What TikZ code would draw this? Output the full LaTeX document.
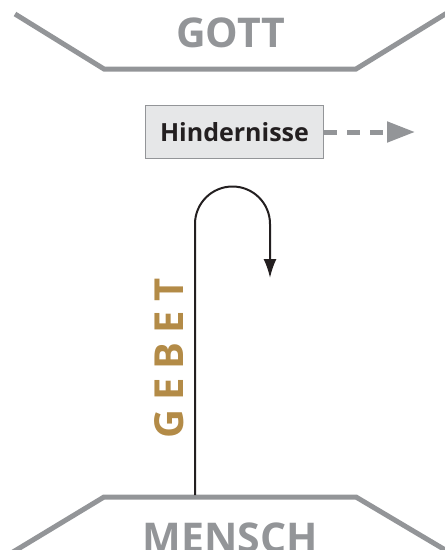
\documentclass[tikz,border=0pt]{standalone}
\usepackage{fontspec}
\setmainfont{Open Sans}
\usetikzlibrary{arrows.meta}
\definecolor{frame}{HTML}{939598}
\definecolor{boxfill}{HTML}{E6E7E8}
\definecolor{ink}{HTML}{231F20}
\definecolor{gold}{HTML}{B38B47}
\tikzset{
  bracket/.style={draw=frame, line width=5pt},
  bigtitle/.style={text=frame, font=\fontsize{41}{41}\selectfont\bfseries, inner sep=0pt, anchor=base},
  hbox/.style={draw=frame, fill=boxfill, line width=1.8pt, minimum width=178pt, minimum height=53pt, text=ink, font=\fontsize{25}{25}\selectfont\bfseries, inner sep=0pt},
  prayer/.style={text=gold, font=\fontsize{40}{40}\selectfont\bfseries, inner sep=0pt, anchor=base, rotate=90},
  hook/.style={draw=ink, line width=2pt, -{Latex[length=19pt,width=13pt]}},
  escape/.style={draw=frame, line width=5pt, dash pattern=on 13pt off 10pt, -{Triangle[length=28pt,width=20pt]}}
}
\begin{document}
\begin{tikzpicture}[x=1pt,y=1pt]
\useasboundingbox (0,0) rectangle (445,-550);
% top bracket
\draw[bracket] (15,-14) -- (104,-69) -- (356,-69) -- (447,-13);
\node[bigtitle] (gott) at (231,-47) {GOTT};
% bottom bracket
\draw[bracket] (13,-552) -- (104,-497) -- (356,-497) -- (447,-551);
\node[bigtitle] (mensch) at (230,-552) {MENSCH};
% obstacles
\node[hbox] (hind) at (234.5,-132) {Hindernisse};
\coordinate (away) at (415,-132);
\draw[escape] (hind.east) -- (away);
% prayer
\coordinate (start) at (195,-495);
\coordinate (turn) at (195,-224);
\coordinate (stop) at (270,-278);
\draw[hook] (start) -- (turn) arc[start angle=180, end angle=0, radius=37.5] -- (stop);
\node[prayer] (gebet) at (183,-358.5) {G\kern9pt E\kern9pt B\kern9pt E\kern9pt T};
\end{tikzpicture}
\end{document}
